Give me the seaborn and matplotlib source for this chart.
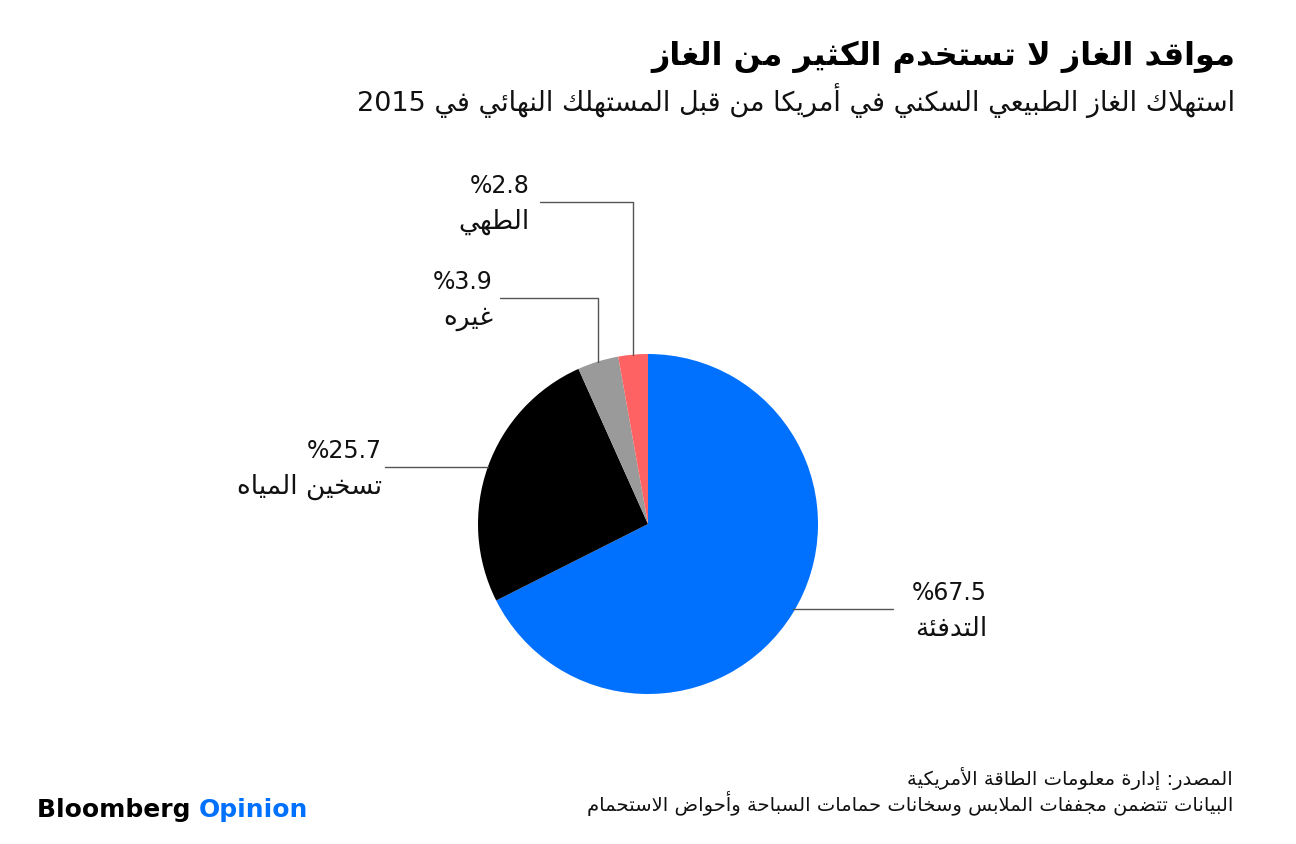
# حصص استهلاك الغاز الطبيعي السكني - مخطط دائري
import re
import numpy as np
import matplotlib
matplotlib.use("Agg")
import matplotlib.pyplot as plt
import seaborn as sns

# البيانات
categories = ["التدفئة", "تسخين المياه", "غيره", "الطهي"]
shares = [67.5, 25.7, 3.9, 2.8]
colors = ["#0070ff", "#000000", "#9a9a9a", "#ff6262"]

title = "مواقد الغاز لا تستخدم الكثير من الغاز"
subtitle = "استهلاك الغاز الطبيعي السكني في أمريكا من قبل المستهلك النهائي في 2015"
source = "المصدر: إدارة معلومات الطاقة الأمريكية"
note = "البيانات تتضمن مجففات الملابس وسخانات حمامات السباحة وأحواض الاستحمام"

# matplotlib ne fait pas le shaping arabe : formes de présentation + ordre visuel
FORMS = {0x0621: (0xFE80, 1), 0x0622: (0xFE81, 2), 0x0623: (0xFE83, 2), 0x0624: (0xFE85, 2),
         0x0625: (0xFE87, 2), 0x0626: (0xFE89, 4), 0x0627: (0xFE8D, 2), 0x0628: (0xFE8F, 4),
         0x0629: (0xFE93, 2), 0x062A: (0xFE95, 4), 0x062B: (0xFE99, 4), 0x062C: (0xFE9D, 4),
         0x062D: (0xFEA1, 4), 0x062E: (0xFEA5, 4), 0x062F: (0xFEA9, 2), 0x0630: (0xFEAB, 2),
         0x0631: (0xFEAD, 2), 0x0632: (0xFEAF, 2), 0x0633: (0xFEB1, 4), 0x0634: (0xFEB5, 4),
         0x0635: (0xFEB9, 4), 0x0636: (0xFEBD, 4), 0x0637: (0xFEC1, 4), 0x0638: (0xFEC5, 4),
         0x0639: (0xFEC9, 4), 0x063A: (0xFECD, 4), 0x0641: (0xFED1, 4), 0x0642: (0xFED5, 4),
         0x0643: (0xFED9, 4), 0x0644: (0xFEDD, 4), 0x0645: (0xFEE1, 4), 0x0646: (0xFEE5, 4),
         0x0647: (0xFEE9, 4), 0x0648: (0xFEED, 2), 0x0649: (0xFEEF, 2), 0x064A: (0xFEF1, 4)}
LAM_ALEF = {0x0622: 0xFEF5, 0x0623: 0xFEF7, 0x0625: 0xFEF9, 0x0627: 0xFEFB}


def shape(s):
    units = []
    i = 0
    while i < len(s):
        c = ord(s[i])
        if c == 0x0644 and i + 1 < len(s) and ord(s[i + 1]) in LAM_ALEF:
            units.append((LAM_ALEF[ord(s[i + 1])], 2))
            i += 2
            continue
        units.append(FORMS.get(c, (c, 0)))
        i += 1
    out = []
    for k, (base, n) in enumerate(units):
        if n == 0:
            out.append(chr(base))
            continue
        jp = k > 0 and units[k - 1][1] == 4 and n >= 2
        jn = n == 4 and k + 1 < len(units) and units[k + 1][1] >= 2
        form = 3 if (jp and jn) else 1 if jp else 2 if jn else 0
        out.append(chr(base + form))
    return "".join(out)


def rtl(s):
    rev = shape(s)[::-1]
    return re.sub(r"[0-9][0-9.]*[0-9]|[0-9]", lambda m: m.group(0)[::-1], rev)


sns.set_theme(style="white")
plt.rcParams["font.family"] = ["DejaVu Sans"]

W, H = 1296, 844
fig = plt.figure(figsize=(W / 100, H / 100), dpi=100)
ax = fig.add_axes([0, 0, 1, 1])

center = (648, 320)
radius = 170
wedges, _ = ax.pie(shares, colors=colors, startangle=90, counterclock=False,
                   center=center, radius=radius, wedgeprops=dict(linewidth=0))
ax.set_xlim(0, W)
ax.set_ylim(0, H)
ax.set_aspect("equal")
ax.axis("off")

# étiquettes : type de ligne, extrémité x, ancrage texte x, niveau y
layout = [
    dict(kind="h", end_x=893, text_x=987, y=235),
    dict(kind="h", end_x=385, text_x=382, y=377),
    dict(kind="v", end_x=500, text_x=493, y=546),
    dict(kind="v", end_x=540, text_x=530, y=642),
]
line_col = "#555555"
for w, cat, val, lay in zip(wedges, categories, shares, layout):
    mid = np.deg2rad((w.theta1 + w.theta2) / 2)
    px = center[0] + radius * np.cos(mid)
    py = center[1] + radius * np.sin(mid)
    if lay["kind"] == "v":
        ax.plot([px, px, lay["end_x"]], [py, lay["y"], lay["y"]], color=line_col, lw=1)
    else:
        ax.plot([px, lay["end_x"]], [lay["y"], lay["y"]], color=line_col, lw=1)
    ax.text(lay["text_x"], lay["y"] + 16, rtl(f"{val}%"), ha="right", va="center",
            fontsize=17, color="#111111")
    ax.text(lay["text_x"], lay["y"] - 20, rtl(cat), ha="right", va="center",
            fontsize=19, color="#111111")

fig.text(1235 / W, 1 - 57 / H, rtl(title), ha="right", va="center",
         fontsize=23, fontweight="bold", color="#000000")
fig.text(1235 / W, 1 - 101 / H, rtl(subtitle), ha="right", va="center",
         fontsize=19.5, color="#111111")
fig.text(1233 / W, 1 - 778 / H, rtl(source), ha="right", va="center",
         fontsize=14, color="#111111")
fig.text(1233 / W, 1 - 804 / H, rtl(note), ha="right", va="center",
         fontsize=14, color="#111111")

t = fig.text(37 / W, 1 - 810 / H, "Bloomberg ", ha="left", va="center",
             fontsize=18, fontweight="heavy", color="#000000")
fig.canvas.draw()
bb = t.get_window_extent()
fig.text(bb.x1 / W, 1 - 810 / H, "Opinion", ha="left", va="center",
         fontsize=18, fontweight="heavy", color="#0070ff")

fig.savefig("out.png", dpi=100, facecolor="white")
